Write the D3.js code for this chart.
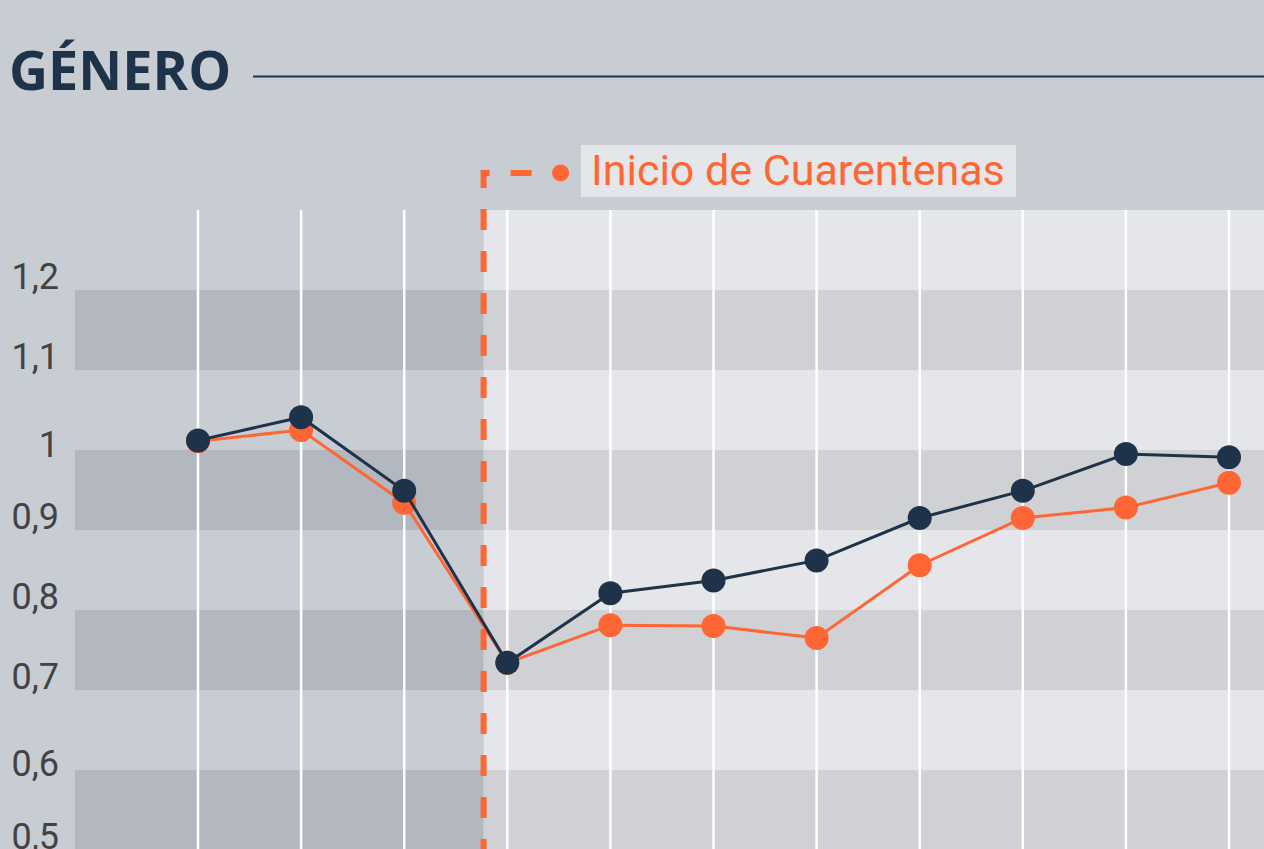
<html>

<head>
  <title>Género - índice</title>
  <script type="text/javascript" src="https://cdn.jsdelivr.net/npm/d3@7"></script>
  <style>
    body { margin: 0; background: #c8cdd4; overflow: hidden; }
  </style>
</head>

<body>
  <script type="text/javascript">
    // Størrelse
    const w = 1264;
    const h = 849;

    // Data
    const categories = ["Ene", "Feb", "Mar", "Abr", "May", "Jun", "Jul", "Ago", "Sep", "Oct", "Nov"];
    const serieAzul = [1.012, 1.041, 0.949, 0.734, 0.821, 0.837, 0.862, 0.915, 0.949, 0.995, 0.991];
    const serieNaranja = [1.011, 1.025, 0.934, 0.734, 0.781, 0.780, 0.765, 0.856, 0.915, 0.928, 0.959];
    const yTicks = [0.5, 0.6, 0.7, 0.8, 0.9, 1.0, 1.1, 1.2];
    const cuarentenaPos = 2.77; // mellem Mar og Abr
    const titulo = "GÉNERO";
    const etiquetaCuarentena = "Inicio de Cuarentenas";

    const azul = "#1e3349";
    const naranja = "#ff6633";

    // Skalaer
    const xScale = d3.scalePoint()
      .domain(categories)
      .range([198, 1229]);
    const step = xScale.step();
    const xPos = v => xScale(categories[0]) + v * step;

    const yScale = d3.scaleLinear()
      .domain([0.5, 1.3])
      .range([850, 210]);

    const fmt = d3.formatLocale({ decimal: ",", thousands: ".", grouping: [3], currency: ["", ""] }).format("~g");

    const svg = d3.select("body")
      .append("svg")
      .attr("width", w)
      .attr("height", h)
      .style("display", "block");

    // Titel
    svg.append("text")
      .attr("x", 9)
      .attr("y", 90)
      .attr("font-family", "'Open Sans', sans-serif")
      .attr("font-weight", 700)
      .attr("font-size", 54)
      .attr("fill", azul)
      .text(titulo);
    svg.append("line")
      .attr("x1", 253).attr("x2", w)
      .attr("y1", 76.5).attr("y2", 76.5)
      .attr("stroke", azul)
      .attr("stroke-width", 2);

    // Bånd (plot starter ved x=75)
    const plotLeft = 75;
    const xCut = xPos(cuarentenaPos);
    const bandStarts = [0.4].concat(yTicks);
    const regions = [
      { x0: plotLeft, x1: xCut, dark: "#b3b7bf", light: "#c8cdd4" },
      { x0: xCut, x1: w, dark: "#cfd1d5", light: "#e4e6ea" }
    ];
    regions.forEach(r => {
      svg.append("g").selectAll("rect")
        .data(bandStarts)
        .enter()
        .append("rect")
        .attr("x", r.x0)
        .attr("width", r.x1 - r.x0)
        .attr("y", d => yScale(d + 0.1))
        .attr("height", d => yScale(d) - yScale(d + 0.1))
        .attr("fill", (d, i) => (Math.round(d * 10) % 2 === 1 ? r.dark : r.light));
    });

    // Lodrette gitterlinjer
    svg.append("g").selectAll("line")
      .data(categories)
      .enter()
      .append("line")
      .attr("x1", d => xScale(d))
      .attr("x2", d => xScale(d))
      .attr("y1", yScale(1.3))
      .attr("y2", h + 20)
      .attr("stroke", "#ffffff")
      .attr("stroke-width", 2.5);

    // Y-akse etiketter
    const nudge = { "1": 8, "0,6": 7 };
    svg.append("g").selectAll("text")
      .data(yTicks)
      .enter()
      .append("text")
      .attr("x", 59)
      .attr("y", d => yScale(d) - 1 + (nudge[fmt(d)] || 0))
      .attr("text-anchor", "end")
      .attr("font-family", "Roboto, sans-serif")
      .attr("font-size", 36)
      .attr("fill", "#434343")
      .text(d => fmt(d));

    // Cuarentena linje
    const yTop = 173;
    svg.append("path")
      .attr("d", `M${xCut + 69},${yTop} H${xCut} V${h + 20}`)
      .attr("fill", "none")
      .attr("stroke", naranja)
      .attr("stroke-width", 6)
      .attr("stroke-dasharray", "21,21")
      .attr("stroke-dashoffset", 21);
    svg.append("circle")
      .attr("cx", xCut + 77)
      .attr("cy", yTop)
      .attr("r", 8.5)
      .attr("fill", naranja);
    svg.append("rect")
      .attr("x", 581)
      .attr("y", 145)
      .attr("width", 435)
      .attr("height", 52)
      .attr("fill", "#e4e6ea");
    svg.append("text")
      .attr("x", 591)
      .attr("y", 185)
      .attr("font-family", "Roboto, sans-serif")
      .attr("font-size", 43)
      .attr("fill", naranja)
      .text(etiquetaCuarentena);

    // Serier
    const line = d3.line()
      .x((d, i) => xScale(categories[i]))
      .y(d => yScale(d));

    [[serieNaranja, naranja], [serieAzul, azul]].forEach(([serie, color]) => {
      svg.append("path")
        .datum(serie)
        .attr("d", line)
        .attr("fill", "none")
        .attr("stroke", color)
        .attr("stroke-width", 3);
      svg.append("g").selectAll("circle")
        .data(serie)
        .enter()
        .append("circle")
        .attr("cx", (d, i) => xScale(categories[i]))
        .attr("cy", d => yScale(d))
        .attr("r", 12)
        .attr("fill", color);
    });
  </script>
</body>

</html>
